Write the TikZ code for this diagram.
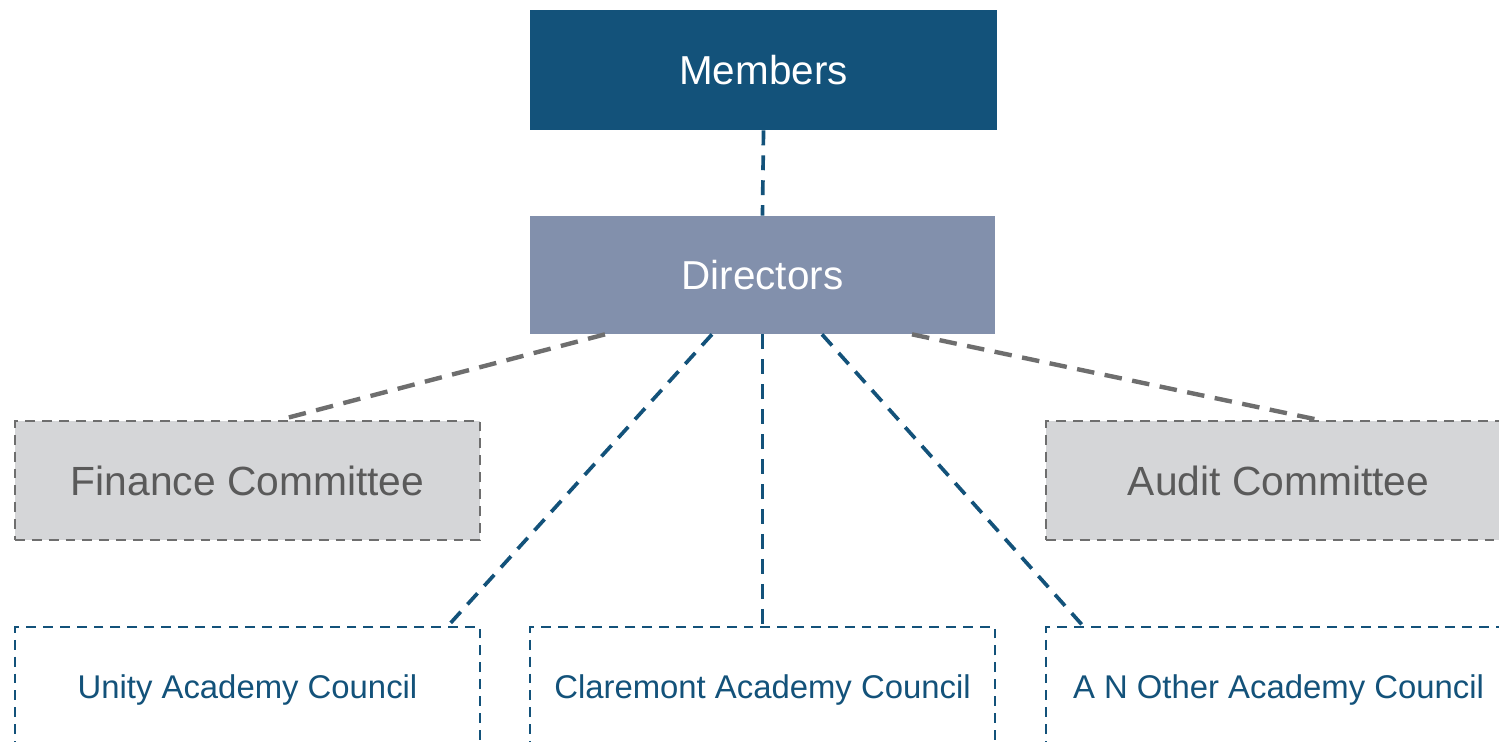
\documentclass[tikz,border=0pt]{standalone}
\usepackage{fontspec}
\setmainfont{Liberation Sans}
\definecolor{navy}{HTML}{13527A}
\definecolor{slate}{HTML}{8290AC}
\definecolor{paper}{HTML}{D5D6D8}
\definecolor{rim}{HTML}{6E6E6E}
\definecolor{ink}{HTML}{5A5A5A}
\begin{document}
\begin{tikzpicture}[
    board/.style={rectangle, minimum height=2.38cm, minimum width=9.3cm, text=white, font=\fontsize{23}{27}\selectfont},
    cttee/.style={rectangle, draw=rim, fill=paper, line width=1.4pt, dash pattern=on 5.6pt off 4pt, minimum height=2.38cm, minimum width=9.3cm, text=ink, font=\fontsize{23.2}{27}\selectfont},
    council/.style={rectangle, draw=navy, line width=1.3pt, dash pattern=on 5.6pt off 4pt, minimum height=2.4cm, minimum width=9.3cm, text=navy, font=\fontsize{18.7}{22}\selectfont},
    blueline/.style={draw=navy, line width=2.1pt, dash pattern=on 8.5pt off 5.7pt},
    greyline/.style={draw=rim, line width=2.5pt, dash pattern=on 10pt off 6pt}
  ]
    \useasboundingbox (0, 0) rectangle (29.98, -14.84);
    \clip (0, 0) rectangle (29.98, -14.84);

    \node (members) [board, fill=navy, minimum width=9.34cm, minimum height=2.4cm] at (15.27, -1.40) {Members};
    \node (directors) [board, fill=slate, minimum height=2.36cm] at (15.25, -5.50) {Directors};
    \node (finance) [cttee] at (4.95, -9.61) {Finance Committee};
    \node (audit) [cttee] at (25.57, -9.61) {Audit Committee};
    \node (unity) [council, text depth=0pt] at (4.95, -13.74) {Unity Academy Council};
    \node (claremont) [council, text depth=0pt] at (15.25, -13.74) {Claremont Academy Council};
    \node (other) [council, text depth=0pt] at (25.57, -13.74) {A N Other Academy Council};

    \draw[blueline] (members.south) to (directors.north);
    \draw[greyline] ([xshift=-3.15cm]directors.south) to ([xshift=0.65cm]finance.north);
    \draw[greyline] ([xshift=2.99cm]directors.south) to ([xshift=0.79cm]audit.north);
    \draw[blueline] ([xshift=-1.01cm]directors.south) to ([xshift=4.01cm]unity.north);
    \draw[blueline] (directors.south) to (claremont.north);
    \draw[blueline] ([xshift=1.19cm]directors.south) to ([xshift=-3.91cm]other.north);
\end{tikzpicture}
\end{document}
